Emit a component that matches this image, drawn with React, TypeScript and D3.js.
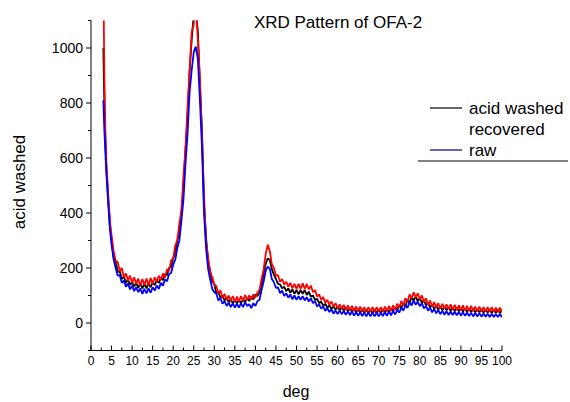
import { useEffect, useRef } from "react";
import * as d3 from "d3";

// 2-theta grid (deg)
const DEG = [
  3, 3.25, 3.5, 3.75, 4, 4.25, 4.5, 4.75, 5,
  5.5, 6, 6.5, 7, 7.5, 8, 8.5, 9, 9.5, 10,
  10.5, 11, 11.5, 12, 12.5, 13, 13.5, 14, 14.5, 15,
  15.5, 16, 16.5, 17, 17.5, 18, 18.5, 19, 19.5, 20,
  20.5, 21, 21.5, 22, 22.5, 23, 23.5, 24, 24.5, 25,
  25.5, 26, 26.5, 27, 27.5, 28, 28.5, 29, 29.5, 30,
  30.5, 31, 31.5, 32, 32.5, 33, 33.5, 34, 34.5, 35,
  35.5, 36, 36.5, 37, 37.5, 38, 38.5, 39, 39.5, 40,
  40.5, 41, 41.5, 42, 42.5, 43, 43.5, 44, 44.5, 45,
  45.5, 46, 46.5, 47, 47.5, 48, 48.5, 49, 49.5, 50,
  50.5, 51, 51.5, 52, 52.5, 53, 53.5, 54, 54.5, 55,
  55.5, 56, 56.5, 57, 57.5, 58, 58.5, 59, 59.5, 60,
  60.5, 61, 61.5, 62, 62.5, 63, 63.5, 64, 64.5, 65,
  65.5, 66, 66.5, 67, 67.5, 68, 68.5, 69, 69.5, 70,
  70.5, 71, 71.5, 72, 72.5, 73, 73.5, 74, 74.5, 75,
  75.5, 76, 76.5, 77, 77.5, 78, 78.5, 79, 79.5, 80,
  80.5, 81, 81.5, 82, 82.5, 83, 83.5, 84, 84.5, 85,
  85.5, 86, 86.5, 87, 87.5, 88, 88.5, 89, 89.5, 90,
  90.5, 91, 91.5, 92, 92.5, 93, 93.5, 94, 94.5, 95,
  95.5, 96, 96.5, 97, 97.5, 98, 98.5, 99, 99.5, 100,
];

const ACID_WASHED = [
  1000, 800, 660, 560, 500, 435, 380, 335, 300,
  240, 224, 186, 188, 160, 168, 146, 158, 138, 150,
  132, 146, 128, 144, 126, 142, 126, 146, 130, 148,
  138, 156, 146, 164, 156, 178, 174, 200, 204, 236,
  256, 300, 330, 400, 490, 630, 750, 920, 1030, 1120,
  1130, 1060, 860, 700, 430, 310, 222, 190, 150, 142,
  108, 112, 92, 98, 82, 92, 76, 86, 72, 84,
  72, 84, 72, 86, 76, 90, 80, 96, 86, 104,
  98, 110, 140, 180, 215, 235, 230, 196, 176, 160,
  142, 140, 126, 132, 116, 126, 110, 122, 106, 120,
  104, 120, 106, 120, 102, 114, 96, 100, 84, 88,
  72, 78, 62, 70, 56, 64, 52, 60, 49, 58,
  47, 58, 45, 56, 43, 54, 41, 52, 39, 51,
  38, 50, 37, 49, 36, 48, 36, 48, 36, 48,
  37, 49, 38, 50, 40, 53, 43, 56, 47, 64,
  56, 72, 62, 84, 74, 94, 82, 96, 80, 90,
  74, 82, 65, 73, 57, 66, 52, 62, 49, 60,
  47, 59, 46, 58, 45, 56, 44, 55, 43, 54,
  42, 53, 41, 52, 40, 51, 39, 50, 39, 50,
  38, 49, 38, 49, 37, 48, 37, 48, 36, 47,
];

const RECOVERED = [
  1250, 900, 700, 580, 520, 450, 400, 350, 320,
  262, 226, 222, 188, 200, 166, 180, 154, 172, 146,
  166, 142, 162, 136, 160, 138, 162, 136, 164, 142,
  166, 150, 172, 156, 180, 165, 196, 190, 228, 234,
  282, 302, 362, 410, 536, 640, 790, 920, 1060, 1085,
  1180, 1030, 895, 680, 462, 295, 240, 182, 168, 140,
  134, 108, 118, 92, 106, 84, 100, 80, 98, 78,
  96, 78, 98, 80, 102, 84, 100, 86, 104, 92,
  112, 120, 160, 195, 250, 285, 262, 214, 200, 172,
  174, 150, 160, 140, 150, 132, 146, 126, 142, 124,
  142, 124, 144, 124, 142, 122, 136, 112, 120, 96,
  104, 84, 94, 74, 84, 66, 78, 60, 72, 54,
  68, 50, 66, 48, 64, 46, 62, 44, 60, 42,
  60, 42, 58, 40, 58, 40, 58, 40, 58, 40,
  58, 41, 60, 42, 62, 44, 64, 48, 70, 56,
  80, 64, 90, 76, 104, 90, 112, 92, 108, 86,
  100, 76, 90, 66, 82, 60, 76, 56, 72, 52,
  70, 52, 68, 50, 68, 48, 66, 48, 64, 46,
  64, 45, 62, 44, 62, 43, 60, 42, 60, 42,
  58, 41, 58, 40, 58, 40, 56, 40, 56, 40,
];

const RAW = [
  810, 700, 620, 540, 480, 420, 360, 320, 285,
  232, 200, 172, 174, 146, 154, 132, 144, 122, 136,
  116, 130, 112, 126, 106, 124, 108, 126, 110, 130,
  118, 136, 124, 146, 136, 158, 152, 178, 182, 212,
  230, 272, 300, 370, 450, 580, 690, 840, 920, 985,
  1005, 960, 810, 640, 400, 272, 196, 158, 124, 112,
  106, 82, 90, 70, 80, 62, 74, 58, 72, 56,
  70, 56, 72, 58, 76, 62, 68, 54, 72, 62,
  80, 84, 120, 150, 190, 205, 198, 160, 148, 128,
  130, 108, 118, 98, 108, 92, 104, 86, 100, 84,
  98, 84, 98, 82, 94, 78, 90, 72, 80, 60,
  68, 52, 60, 44, 54, 40, 50, 34, 46, 32,
  46, 32, 44, 30, 43, 29, 42, 27, 40, 26,
  39, 25, 38, 24, 38, 24, 38, 24, 38, 24,
  38, 25, 40, 26, 42, 28, 44, 31, 48, 38,
  56, 45, 64, 55, 76, 64, 82, 66, 78, 61,
  72, 53, 63, 45, 56, 39, 51, 35, 47, 32,
  45, 30, 43, 29, 42, 29, 41, 28, 40, 27,
  39, 26, 38, 25, 37, 24, 36, 24, 36, 23,
  35, 23, 34, 22, 34, 22, 33, 22, 33, 21,
];

const X_TICKS = d3.range(0, 101, 5);
const Y_TICKS = [0, 200, 400, 600, 800, 1000];

const FONT = "Arial, 'Liberation Sans', sans-serif";

export default function App() {
  const svgRef = useRef<SVGSVGElement>(null);

  useEffect(() => {
    if (!svgRef.current) return;
    const svg = d3.select(svgRef.current);
    svg.selectAll("*").remove();

    const x = d3.scaleLinear().domain([0, 100]).range([91, 502]);
    const y = d3.scaleLinear().domain([-100, 1100]).range([350.5, 20.5]);

    svg.append("defs")
      .append("clipPath").attr("id", "plot-clip")
      .append("rect")
      .attr("x", x(0)).attr("y", y(1100))
      .attr("width", x(100) - x(0)).attr("height", y(-100) - y(1100));

    // series, drawn in the original order
    const series = [
      { values: ACID_WASHED, color: "#000000" },
      { values: RECOVERED, color: "#ff0000" },
      { values: RAW, color: "#0000ff" },
    ];
    const plot = svg.append("g").attr("clip-path", "url(#plot-clip)");
    series.forEach((s) => {
      const line = d3.line<number>()
        .x((_, i) => x(DEG[i]))
        .y((d) => y(d));
      plot.append("path")
        .attr("d", line(s.values))
        .attr("fill", "none")
        .attr("stroke", s.color)
        .attr("stroke-width", 1.8)
        .attr("stroke-linejoin", "bevel");
    });

    // axes
    const axis = svg.append("g").attr("stroke", "#000").attr("stroke-width", 1);
    axis.append("line")
      .attr("x1", x(0)).attr("x2", x(0))
      .attr("y1", y(1100)).attr("y2", y(-100));
    axis.append("line")
      .attr("x1", x(0)).attr("x2", x(100))
      .attr("y1", y(-100)).attr("y2", y(-100));

    // y ticks (outward), minor every 100
    d3.range(-100, 1101, 100).forEach((v) => {
      const major = Y_TICKS.includes(v);
      axis.append("line")
        .attr("x1", x(0) - (major ? 5 : 3)).attr("x2", x(0))
        .attr("y1", y(v)).attr("y2", y(v));
    });
    Y_TICKS.forEach((v) => {
      svg.append("text")
        .attr("x", x(0) - 8).attr("y", y(v)).attr("dy", "0.36em")
        .attr("text-anchor", "end")
        .attr("font-family", FONT).attr("font-size", "14px")
        .text(v);
    });

    // x ticks (inward), minor every 2.5
    d3.range(0, 101, 2.5).forEach((v) => {
      const major = v % 5 === 0;
      axis.append("line")
        .attr("x1", x(v)).attr("x2", x(v))
        .attr("y1", y(-100)).attr("y2", y(-100) - (major ? 5 : 3));
    });
    X_TICKS.forEach((v) => {
      svg.append("text")
        .attr("x", x(v)).attr("y", 365)
        .attr("text-anchor", "middle")
        .attr("font-family", FONT).attr("font-size", "12px")
        .text(v);
    });

    // labels
    svg.append("text")
      .attr("x", 296).attr("y", 397)
      .attr("text-anchor", "middle")
      .attr("font-family", FONT).attr("font-size", "16px")
      .text("deg");
    svg.append("text")
      .attr("transform", "translate(25,182) rotate(-90)")
      .attr("text-anchor", "middle")
      .attr("font-family", FONT).attr("font-size", "17px")
      .text("acid washed");
    svg.append("text")
      .attr("x", 338).attr("y", 28)
      .attr("text-anchor", "middle")
      .attr("font-family", FONT).attr("font-size", "17px")
      .text("XRD Pattern of OFA-2");

    // legend
    const leg = svg.append("g").attr("font-family", FONT).attr("font-size", "17px");
    leg.append("line").attr("x1", 430).attr("x2", 462).attr("y1", 108).attr("y2", 108)
      .attr("stroke", "#000").attr("stroke-width", 1.2);
    leg.append("text").attr("x", 469).attr("y", 108).attr("dy", "0.35em").text("acid washed");
    leg.append("text").attr("x", 469).attr("y", 129).attr("dy", "0.35em").text("recovered");
    leg.append("line").attr("x1", 430).attr("x2", 462).attr("y1", 150).attr("y2", 150)
      .attr("stroke", "#00008b").attr("stroke-width", 1.2);
    leg.append("text").attr("x", 469).attr("y", 150).attr("dy", "0.35em").text("raw");
    leg.append("line").attr("x1", 418).attr("x2", 568).attr("y1", 161).attr("y2", 161)
      .attr("stroke", "#000").attr("stroke-width", 1.2);
  }, []);

  return (
    <svg
      ref={svgRef}
      width={570}
      height={402}
      style={{ position: "absolute", left: 0, top: 0, background: "#fff", display: "block" }}
    />
  );
}
